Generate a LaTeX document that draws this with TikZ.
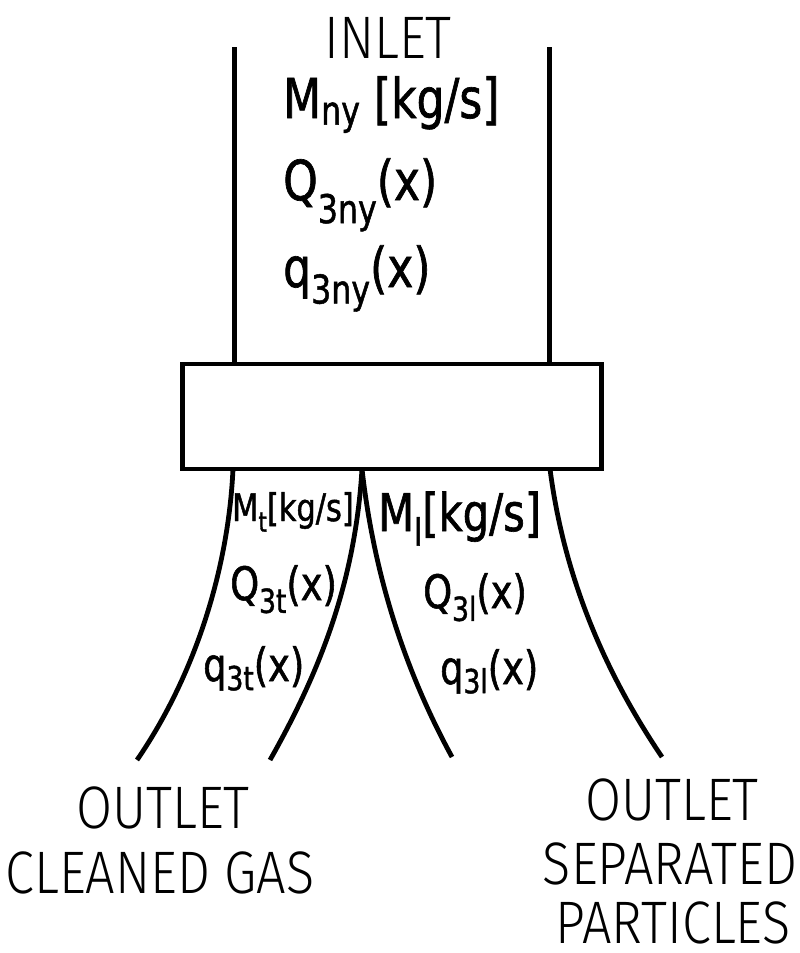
\documentclass[tikz,border=0pt]{standalone}
\usepackage{fontspec}
\usepackage{graphicx}
\newfontfamily\titlefont{Fira Sans Light}[FakeStretch=0.87]
\newfontfamily\techfont{DejaVu Sans}[FakeStretch=0.8,FakeBold=1.2]
% lowered subscript: optional drop, then text
\newcommand\lowsub[2][0.28em]{\raisebox{-#1}{\scalebox{0.72}{#2}}}
\begin{document}
\begin{tikzpicture}[x=1pt,y=-1pt,
  pipe/.style={line width=4.8pt,line cap=butt},
  title/.style={inner sep=0pt,anchor=base,align=center,font=\titlefont\fontsize{60}{66}\selectfont},
  big/.style={inner sep=0pt,anchor=base west,font=\techfont\fontsize{55}{60}\selectfont},
  mid/.style={inner sep=0pt,anchor=base west,font=\techfont\fontsize{46}{50}\selectfont},
  midl/.style={inner sep=0pt,anchor=base west,font=\techfont\fontsize{52}{56}\selectfont},
  small/.style={inner sep=0pt,anchor=base west,font=\techfont\fontsize{38}{42}\selectfont}]
\useasboundingbox (0,0) rectangle (800,953);

% separator body
\node[draw,line width=4.8pt,minimum width=419pt,minimum height=105pt,inner sep=0pt] (sep) at (392,416.5) {};

% inlet duct
\coordinate (inL) at (234.5,47);
\coordinate (inR) at (549.5,47);
\draw[pipe] (inL) -- (inL |- sep.north);
\draw[pipe] (inR) -- (inR |- sep.north);

% outlet ducts
\coordinate (gasA) at (233,469);
\coordinate (mid)  at (362,469);
\coordinate (parB) at (550,469);
\coordinate (gasEndA) at (137,760);
\coordinate (gasEndB) at (270,760);
\coordinate (parEndA) at (452,757);
\coordinate (parEndB) at (662,757);
\draw[pipe] (gasA) .. controls (228,575) and (192,680) .. (gasEndA);
\draw[pipe] (mid) .. controls (355,585) and (318,675) .. (gasEndB);
\draw[pipe] (mid) .. controls (375,585) and (410,680) .. (parEndA);
\draw[pipe] (parB) .. controls (565,585) and (610,680) .. (parEndB);

% inlet quantities
\node[title] (inlet) at (388,58) {INLET};
\node[big] (mny) at (283,118) {M\lowsub[0.12em]{ny} [kg/s]};
\node[big] (Qny) at (283,200) {Q\lowsub[0.42em]{3ny}(x)};
\node[big] (qny) at (283,287) {q\lowsub[0.3em]{3ny}(x)};

% outlet quantities
\node[small] (mt) at (232,521) {M\lowsub{t}[kg/s]};
\node[midl] (ml) at (378,531) {M\lowsub{l}[kg/s]};
\node[mid] (Qt) at (230,600) {Q\lowsub{3t}(x)};
\node[mid] (qt) at (203,681) {q\lowsub[0.2em]{3t}(x)};
\node[mid] (Ql) at (423,608) {Q\lowsub{3l}(x)};
\node[mid] (ql) at (440,684) {q\lowsub[0.2em]{3l}(x)};

% outlet names
\node[title] (outgas) at (163,828) {OUTLET};
\node[title] (gas) at (160,893) {CLEANED GAS};
\node[title] (outpar) at (672,820) {OUTLET};
\node[title] (sepd) at (670,884) {SEPARATED};
\node[title] (part) at (673,943) {PARTICLES};
\end{tikzpicture}
\end{document}
